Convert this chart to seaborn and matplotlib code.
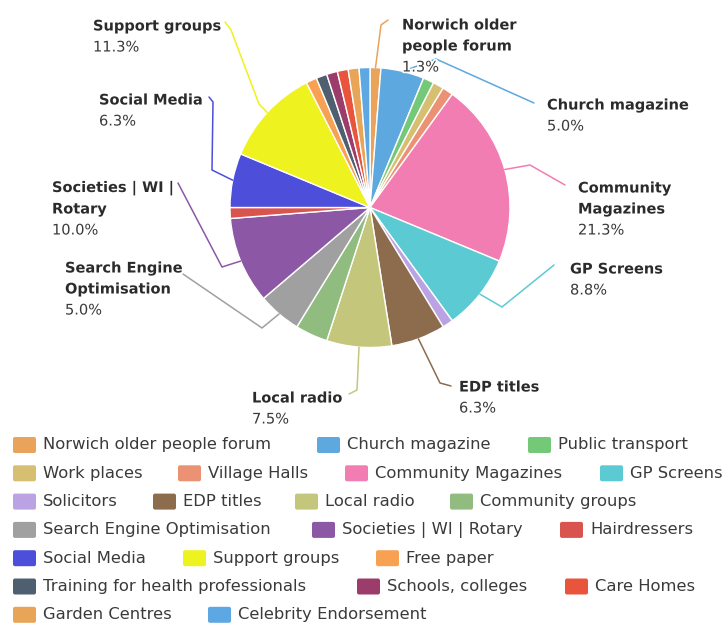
import numpy as np
import pandas as pd
import seaborn as sns
import matplotlib
matplotlib.use("Agg")
import matplotlib.pyplot as plt
import matplotlib.patheffects as pe
from matplotlib.patches import FancyBboxPatch
from decimal import Decimal, ROUND_HALF_UP

# Survey responses: where people heard about the service
channels = [
    "Norwich older people forum", "Church magazine", "Public transport",
    "Work places", "Village Halls", "Community Magazines", "GP Screens",
    "Solicitors", "EDP titles", "Local radio", "Community groups",
    "Search Engine Optimisation", "Societies | WI | Rotary", "Hairdressers",
    "Social Media", "Support groups", "Free paper",
    "Training for health professionals", "Schools, colleges", "Care Homes",
    "Garden Centres", "Celebrity Endorsement",
]
responses = [1, 4, 1, 1, 1, 17, 7, 1, 5, 6, 3, 4, 8, 1, 5, 9, 1, 1, 1, 1, 1, 1]
colours = [
    "#E9A35B", "#5DA8DF", "#74C978", "#D7BF72", "#EB9275", "#F27DB2",
    "#5CCAD2", "#BBA2E2", "#8D6C4D", "#C4C67C", "#90BC80", "#A0A0A0",
    "#8C58A5", "#D9534F", "#4D4ED9", "#EEF21E", "#F8A152", "#4E6070",
    "#9C3C6A", "#E9553C", "#E8A557", "#5DA8E3",
]

df = pd.DataFrame({"channel": channels, "responses": responses, "colour": colours})
total = df["responses"].sum()
df["share"] = [
    Decimal(str(v * 100 / total)).quantize(Decimal("0.1"), rounding=ROUND_HALF_UP)
    for v in df["responses"]
]

sns.set_theme(style="white")
plt.rcParams["font.family"] = ["DejaVu Sans"]

W, H = 727, 623
fig = plt.figure(figsize=(W / 100, H / 100), dpi=100)
ax = fig.add_axes([0, 0, 1, 1])

cx, cy, radius = 370, 207.5, 140
wedges, _ = ax.pie(
    df["responses"], colors=df["colour"], startangle=-90, counterclock=True,
    center=(cx, cy), radius=radius,
    wedgeprops=dict(edgecolor="white", linewidth=1.0),
)
ax.set_xlim(0, W)
ax.set_ylim(H, 0)
ax.set_aspect("auto")
ax.axis("off")

# Data labels: text position (left edge, first line centre) and connector elbows
label_layout = {
    "Norwich older people forum": ("Norwich older\npeople forum", 402, 25,
                                   [(388, 20), (381, 25)]),
    "Church magazine": ("Church magazine", 547, 105, [(534, 103), (436, 59)]),
    "Community Magazines": ("Community\nMagazines", 578, 188,
                            [(565, 185), (530, 165)]),
    "GP Screens": ("GP Screens", 570, 269, [(554, 265), (502, 307)]),
    "EDP titles": ("EDP titles", 459, 387, [(451, 386), (440, 383)]),
    "Local radio": ("Local radio", 252, 398, [(349, 394), (357, 390)]),
    "Search Engine Optimisation": ("Search Engine\nOptimisation", 65, 268,
                                   [(183, 274), (262, 328)]),
    "Societies | WI | Rotary": ("Societies | WI |\nRotary", 52, 188,
                                [(178, 183), (222, 267)]),
    "Social Media": ("Social Media", 99, 100,
                     [(209, 97), (213, 102), (212, 170)]),
    "Support groups": ("Support groups", 93, 26,
                       [(225, 22), (231, 30), (259, 104)]),
}

outline = [pe.withStroke(linewidth=2.5, foreground="white")]
line_gap = 21
for wedge, (_, row) in zip(wedges, df.iterrows()):
    if row["channel"] not in label_layout:
        continue
    text, tx, ty, elbows = label_layout[row["channel"]]
    mid = np.deg2rad((wedge.theta1 + wedge.theta2) / 2)
    edge = (cx + radius * np.cos(mid), cy + radius * np.sin(mid))
    pts = elbows + [edge]
    ax.plot([p[0] for p in pts], [p[1] for p in pts], color=row["colour"],
            lw=1.1, solid_joinstyle="round", zorder=3)
    lines = text.split("\n")
    for k, ln in enumerate(lines):
        ax.text(tx, ty + k * line_gap, ln, fontsize=10.5, fontweight="bold",
                color="#2b2b2b", ha="left", va="center", zorder=5,
                path_effects=outline)
    ax.text(tx, ty + len(lines) * line_gap, f"{row['share']}%", fontsize=10.5,
            color="#3a3a3a", ha="left", va="center", zorder=5,
            path_effects=outline)

# Legend laid out in wrapped rows
legend_rows_x = [
    [13, 317, 528],
    [13, 178, 345, 600],
    [13, 153, 295, 450],
    [13, 312, 560],
    [13, 183, 376],
    [13, 357, 565],
    [13, 208],
]
row_y0, row_step = 445, 28.3
sw, sh = 23, 16
item = 0
for r, xs in enumerate(legend_rows_x):
    y = row_y0 + r * row_step
    for x in xs:
        ax.add_patch(FancyBboxPatch(
            (x, y - sh / 2), sw, sh,
            boxstyle="round,pad=0,rounding_size=2",
            facecolor=df["colour"][item], edgecolor="none", zorder=4))
        ax.text(x + sw + 7, y, df["channel"][item], fontsize=11.8,
                color="#3a3a3a", ha="left", va="center", zorder=5)
        item += 1

fig.savefig("out.png", dpi=100, facecolor="white")
